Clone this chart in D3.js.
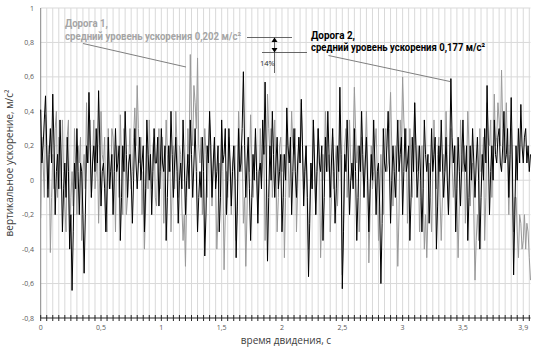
<!DOCTYPE html>
<html>
<head>
<meta charset="utf-8">
<script src="https://cdnjs.cloudflare.com/ajax/libs/d3/7.8.5/d3.min.js"></script>
<style>
  body { margin: 0; background: #fff; }
  svg { font-family: "Open Sans", "Noto Sans", sans-serif; }
</style>
</head>
<body>
<svg id="chart"></svg>
<script>
// time step of samples, s
const timeStep = 0.01;

// Дорога 1 (grey), vertical acceleration, m/s^2
const road1 = [
  -0.22, 0.25, 0.1, -0.1, 0.38, 0.15, -0.05, 0.2, -0.42, -0.1, 0.15, -0.05, 0.3, 0.4, -0.1, 0.25, 0.2, -0.05, 0.35, 0.05,
  -0.15, -0.3, 0.25, 0.35, -0.3, -0.1, 0.05, -0.15, 0.3, 0.1, -0.2, 0.2, 0.1, 0.25, -0.35, 0.05, 0.15, -0.05, 0.45, 0.1,
  0.2, 0.35, -0.1, 0.1, 0.35, -0.05, 0.05, 0.2, -0.25, 0.05, 0.4, 0.15, 0.1, 0.25, -0.15, -0.3, 0.3, 0.1, -0.05, 0.3,
  0.25, 0.05, -0.3, 0.2, 0.1, -0.1, 0.38, 0.1, -0.2, 0.3, 0.15, -0.2, -0.1, 0.1, 0.3, -0.05, 0.05, 0.25, 0.42, 0.2,
  0.55, 0.3, 0.1, 0.25, -0.2, 0.05, -0.4, -0.15, 0.2, -0.05, 0.35, 0.1, -0.05, 0.2, 0.25, -0.1, -0.15, 0.1, 0.3, -0.05,
  0.1, 0.25, -0.25, 0.05, 0.35, 0.15, 0.05, 0.2, -0.3, -0.05, 0.2, -0.05, 0.4, 0.2, -0.1, 0.2, 0.15, -0.15, -0.35, -0.2,
  -0.5, -0.1, 0.3, 0.1, 0.73, 0.35, 0.2, 0.55, 0.45, 0.3, 0.71, 0.2, 0.1, 0.25, -0.2, 0.05, 0.3, 0.15, -0.1, 0.15,
  0.35, 0.1, -0.15, 0.05, 0.2, 0.0, -0.4, -0.2, 0.1, -0.1, 0.3, 0.05, -0.52, -0.2, 0.05, -0.1, 0.25, 0.05, -0.2, 0.1,
  0.15, 0.2, -0.35, -0.1, 0.4, 0.2, 0.05, 0.2, -0.25, -0.1, -0.5, -0.2, 0.2, 0.05, 0.38, 0.1, -0.1, 0.05, 0.25, 0.05,
  -0.2, -0.05, 0.3, 0.0, 0.1, 0.2, -0.35, -0.05, 0.5, 0.3, 0.15, 0.3, -0.1, 0.1, 0.35, 0.05, -0.3, -0.1, 0.2, 0.25,
  0.05, 0.15, -0.45, -0.1, 0.3, 0.15, -0.1, 0.1, 0.4, 0.2, 0.15, 0.3, -0.3, -0.05, 0.25, 0.1, 0.45, 0.2, -0.05, 0.1,
  0.2, -0.05, -0.4, -0.15, 0.1, -0.05, 0.35, 0.1, -0.2, 0.05, 0.3, 0.15, -0.45, -0.2, 0.15, 0.0, 0.4, 0.2, 0.05, 0.15,
  -0.3, -0.1, 0.25, -0.05, 0.1, 0.2, -0.15, 0.05, 0.38, 0.1, -0.55, -0.25, 0.2, 0.3, -0.1, 0.05, 0.35, 0.1, 0.0, 0.2,
  0.54, 0.3, 0.1, 0.2, -0.3, -0.1, 0.25, 0.05, -0.1, 0.15, 0.4, 0.1, -0.48, -0.2, 0.2, -0.05, 0.05, 0.2, 0.3, 0.05,
  -0.35, -0.1, 0.15, -0.05, -0.2, 0.1, 0.3, 0.05, 0.1, 0.3, 0.51, 0.2, -0.15, 0.05, 0.2, -0.1, -0.5, -0.2, 0.35, 0.2,
  0.6, 0.35, 0.2, 0.3, -0.25, 0.0, 0.3, 0.1, -0.1, 0.15, 0.45, 0.2, 0.05, 0.2, -0.3, -0.1, 0.2, -0.05, -0.4, -0.2,
  -0.45, -0.2, 0.1, -0.1, -0.3, 0.05, 0.35, 0.1, -0.05, 0.15, 0.25, -0.1, -0.35, -0.1, 0.15, 0.05, 0.4, 0.15, -0.2, 0.05,
  0.3, 0.1, -0.1, 0.05, 0.2, -0.1, -0.45, -0.15, 0.35, 0.15, 0.05, 0.2, -0.25, 0.05, 0.4, 0.2, -0.15, 0.05, 0.1, -0.2,
  -0.58, -0.35, -0.2, -0.35, 0.3, 0.05, 0.1, 0.25, -0.35, -0.1, 0.45, 0.25, 0.2, 0.35, -0.1, 0.15, 0.5, 0.2, 0.25, 0.45,
  0.35, 0.2, 0.64, 0.3, 0.1, 0.25, 0.45, 0.1, -0.2, 0.05, 0.3, -0.05, -0.3, -0.1, -0.1, -0.3, -0.45, -0.2, -0.25, -0.4,
  -0.35, -0.2, -0.4, -0.25, -0.3, -0.45, -0.58
];

// Дорога 2 (black), vertical acceleration, m/s^2
const road2 = [
  0.41, 0.1, 0.2, 0.35, 0.49, 0.2, -0.1, 0.15, 0.3, 0.1, 0.5, 0.2, -0.2, 0.05, 0.15, -0.05, 0.35, 0.1, -0.3, -0.05,
  0.1, -0.1, 0.25, 0.05, -0.4, -0.2, -0.64, -0.3, 0.1, -0.05, 0.3, 0.05, -0.2, 0.1, 0.05, -0.2, -0.54, -0.2, 0.2, 0.1,
  0.51, 0.2, -0.1, 0.1, 0.2, 0.05, 0.3, 0.1, 0.52, 0.2, -0.15, 0.05, 0.1, -0.05, -0.3, -0.05, 0.25, -0.05, 0.05, 0.15,
  -0.2, 0.05, 0.3, 0.05, 0.1, 0.2, -0.35, -0.1, 0.2, 0.05, 0.4, 0.15, -0.1, 0.1, 0.15, 0.0, -0.25, 0.0, 0.3, 0.1,
  -0.05, 0.1, 0.25, 0.0, 0.1, 0.2, -0.3, -0.05, 0.35, 0.15, 0.0, 0.15, -0.2, 0.05, 0.3, 0.1, 0.1, 0.25, -0.15, 0.05,
  0.3, 0.1, 0.05, 0.2, -0.35, -0.1, 0.2, 0.05, 0.4, 0.15, -0.1, 0.1, 0.25, 0.05, -0.25, 0.0, 0.1, -0.05, 0.35, 0.1,
  -0.2, 0.0, 0.15, -0.05, 0.35, 0.15, -0.1, 0.1, 0.3, 0.05, -0.3, -0.1, 0.05, -0.1, 0.25, 0.05, -0.44, -0.2, 0.2, 0.1,
  0.4, 0.2, -0.1, 0.1, 0.25, -0.05, 0.05, 0.2, -0.3, -0.1, 0.35, 0.1, 0.15, 0.3, -0.2, 0.0, 0.3, 0.1, -0.15, 0.05,
  0.2, 0.0, -0.45, -0.15, 0.3, 0.05, 0.1, 0.3, 0.63, 0.2, -0.1, 0.1, 0.25, -0.05, -0.35, -0.1, 0.15, 0.0, 0.3, 0.05,
  -0.25, 0.05, 0.1, -0.05, 0.35, 0.15, 0.57, 0.1, -0.47, -0.1, 0.2, 0.0, 0.4, 0.15, -0.1, 0.1, 0.25, -0.05, 0.05, 0.15,
  -0.3, -0.1, 0.15, 0.0, 0.42, 0.2, 0.1, 0.25, -0.2, 0.05, 0.3, 0.05, -0.1, 0.1, 0.25, 0.1, 0.47, 0.2, -0.15, 0.05,
  0.2, -0.1, -0.56, -0.25, 0.1, -0.05, 0.35, 0.1, -0.2, 0.05, 0.3, 0.1, 0.05, 0.2, -0.35, -0.1, 0.25, 0.05, 0.4, 0.15,
  -0.1, 0.1, 0.3, 0.05, -0.25, -0.05, 0.2, 0.05, 0.54, 0.15, -0.63, -0.3, 0.15, 0.05, 0.35, 0.1, -0.2, 0.0, 0.1, -0.05,
  0.3, 0.05, -0.35, -0.1, 0.2, 0.05, 0.4, 0.15, -0.1, 0.1, 0.25, 0.0, -0.3, -0.05, 0.15, 0.0, 0.35, 0.1, -0.2, 0.05,
  0.1, -0.15, -0.6, -0.25, 0.3, 0.1, 0.05, 0.2, 0.4, 0.1, -0.25, 0.0, 0.2, 0.05, -0.1, 0.1, 0.35, 0.05, 0.15, 0.25,
  -0.2, 0.05, 0.3, 0.05, 0.1, 0.2, -0.35, -0.1, 0.25, 0.05, 0.45, 0.2, -0.1, 0.05, 0.2, 0.0, -0.3, -0.05, 0.35, 0.15,
  0.05, 0.15, -0.25, 0.0, 0.3, 0.05, 0.15, 0.25, -0.4, -0.15, 0.2, 0.05, 0.35, 0.1, -0.1, 0.05, 0.25, 0.0, -0.2, 0.1,
  0.59, 0.25, 0.1, 0.2, -0.3, -0.05, 0.25, 0.05, -0.15, 0.1, 0.35, 0.1, 0.05, 0.2, -0.35, -0.1, 0.2, 0.0, 0.3, 0.1,
  -0.1, 0.1, 0.25, 0.0, -0.4, -0.1, 0.15, 0.0, 0.3, 0.1, 0.55, 0.2, -0.2, 0.05, 0.2, 0.0, 0.35, 0.15, 0.1, 0.25,
  0.3, 0.1, 0.05, 0.2, 0.4, 0.1, 0.15, 0.3, -0.1, 0.15, 0.48, 0.1, -0.55, -0.2, 0.2, 0.0, 0.3, 0.1, 0.44, 0.2,
  0.1, 0.25, 0.3, 0.1, 0.2, 0.05, 0.15
];

// axis ticks and labels
const yTicks = [-0.8, -0.6, -0.4, -0.2, 0, 0.2, 0.4, 0.6, 0.8, 1];
const xLabelVals = [0, 0.5, 1, 1.5, 2, 2.5, 3, 3.5, 4];
const xLabels = ["0", "0,5", "1", "1,5", "2", "2,5", "3", "3,5", "3,9"];
const xTickStep = 0.05;

const width = 543, height = 355;
const margin = { top: 8, right: 12.5, bottom: 37, left: 40.7 };

const svg = d3.select('#chart')
    .attr('width', width)
    .attr('height', height);

const xScale = d3.scaleLinear().domain([0, 4.06]).range([margin.left, width - margin.right]);
const yScale = d3.scaleLinear().domain([-0.8, 1]).range([height - margin.bottom, margin.top]);

const fmt = v => String(v).replace('.', ',');

// vertical grid, every 0.05 s
const xTicks = d3.range(0, 4.0501, xTickStep);
svg.append('g').selectAll('line')
    .data(xTicks.slice(1))
    .join('line')
    .attr('x1', d => xScale(d)).attr('x2', d => xScale(d))
    .attr('y1', yScale(1)).attr('y2', yScale(-0.8))
    .attr('stroke', '#d9d9d9').attr('stroke-width', 1);

// horizontal grid
svg.append('g').selectAll('line')
    .data(yTicks.filter(d => d > -0.8))
    .join('line')
    .attr('x1', xScale(0)).attr('x2', xScale(4.06))
    .attr('y1', d => yScale(d)).attr('y2', d => yScale(d))
    .attr('stroke', '#d9d9d9').attr('stroke-width', 1);

// left axis line + labels
svg.append('line')
    .attr('x1', xScale(0)).attr('x2', xScale(0))
    .attr('y1', yScale(1)).attr('y2', yScale(-0.8))
    .attr('stroke', '#868686');
svg.append('g').selectAll('text')
    .data(yTicks)
    .join('text')
    .attr('x', 34).attr('y', d => yScale(d) + 2.5)
    .attr('text-anchor', 'end')
    .attr('font-size', 7).attr('fill', '#595959')
    .text(d => fmt(d));

// series
const line = d3.line()
    .x((d, i) => xScale(i * timeStep))
    .y(d => yScale(d));

svg.append('path').datum(road1)
    .attr('d', line).attr('fill', 'none')
    .attr('stroke', '#999999').attr('stroke-width', 1);
svg.append('path').datum(road2)
    .attr('d', line).attr('fill', 'none')
    .attr('stroke', '#000').attr('stroke-width', 1);

// bottom axis with crossing ticks
const yb = yScale(-0.8);
svg.append('line')
    .attr('x1', xScale(0)).attr('x2', xScale(4.06))
    .attr('y1', yb).attr('y2', yb)
    .attr('stroke', '#262626').attr('stroke-width', 1.2);
svg.append('g').selectAll('line')
    .data(xTicks)
    .join('line')
    .attr('x1', d => xScale(d)).attr('x2', d => xScale(d))
    .attr('y1', yb - 3).attr('y2', yb + 3)
    .attr('stroke', '#262626');
svg.append('g').selectAll('text')
    .data(xLabelVals)
    .join('text')
    .attr('x', d => xScale(d)).attr('y', yb + 12)
    .attr('text-anchor', 'middle')
    .attr('font-size', 7).attr('fill', '#595959')
    .text((d, i) => xLabels[i]);

// axis titles
svg.append('text')
    .attr('x', 286).attr('y', 344)
    .attr('text-anchor', 'middle')
    .attr('font-size', 10).attr('fill', '#404040')
    .text('время двидения, с');
svg.append('text')
    .attr('transform', 'translate(13,163) rotate(-90)')
    .attr('text-anchor', 'middle')
    .attr('font-size', 10).attr('fill', '#404040')
    .text('вертикальное ускорение, м/с²');

// annotations
function label(x, y, txt, len, color) {
    svg.append('text')
        .attr('x', x).attr('y', y)
        .attr('font-family', 'Roboto, "Open Sans", sans-serif')
        .attr('font-size', 11.5).attr('font-weight', 'bold')
        .attr('fill', color)
        .attr('textLength', len).attr('lengthAdjust', 'spacingAndGlyphs')
        .text(txt);
}
label(65, 27, 'Дорога 1,', 43, '#a5a5a5');
label(65, 39.5, 'средний уровень ускорения 0,202 м/с²', 176, '#a5a5a5');
label(311, 38.5, 'Дорога 2,', 44, '#000');
label(311, 51, 'средний уровень ускорения 0,177 м/с²', 174, '#000');

// leader lines
svg.append('line').attr('x1', 83).attr('y1', 43.5).attr('x2', 186).attr('y2', 67)
    .attr('stroke', '#7f7f7f');
svg.append('line').attr('x1', 328.5).attr('y1', 55.5).attr('x2', 450).attr('y2', 81.5)
    .attr('stroke', '#7f7f7f');

// difference marker
svg.append('line').attr('x1', 247).attr('x2', 292).attr('y1', 37.5).attr('y2', 37.5).attr('stroke', '#404040').attr('stroke-width', 0.8);
svg.append('line').attr('x1', 262).attr('x2', 307).attr('y1', 52.5).attr('y2', 52.5).attr('stroke', '#404040').attr('stroke-width', 0.8);
svg.append('line').attr('x1', 274.5).attr('x2', 274.5).attr('y1', 38).attr('y2', 73).attr('stroke', '#404040').attr('stroke-width', 0.8);
svg.append('path').attr('d', 'M271.5,42 L277.5,42 L274.5,37.5 Z').attr('fill', '#000');
svg.append('path').attr('d', 'M271.5,48 L277.5,48 L274.5,52.5 Z').attr('fill', '#000');
svg.append('text').attr('x', 260).attr('y', 65.5)
    .attr('font-size', 7.5).attr('fill', '#262626').text('14%');
</script>
</body>
</html>
